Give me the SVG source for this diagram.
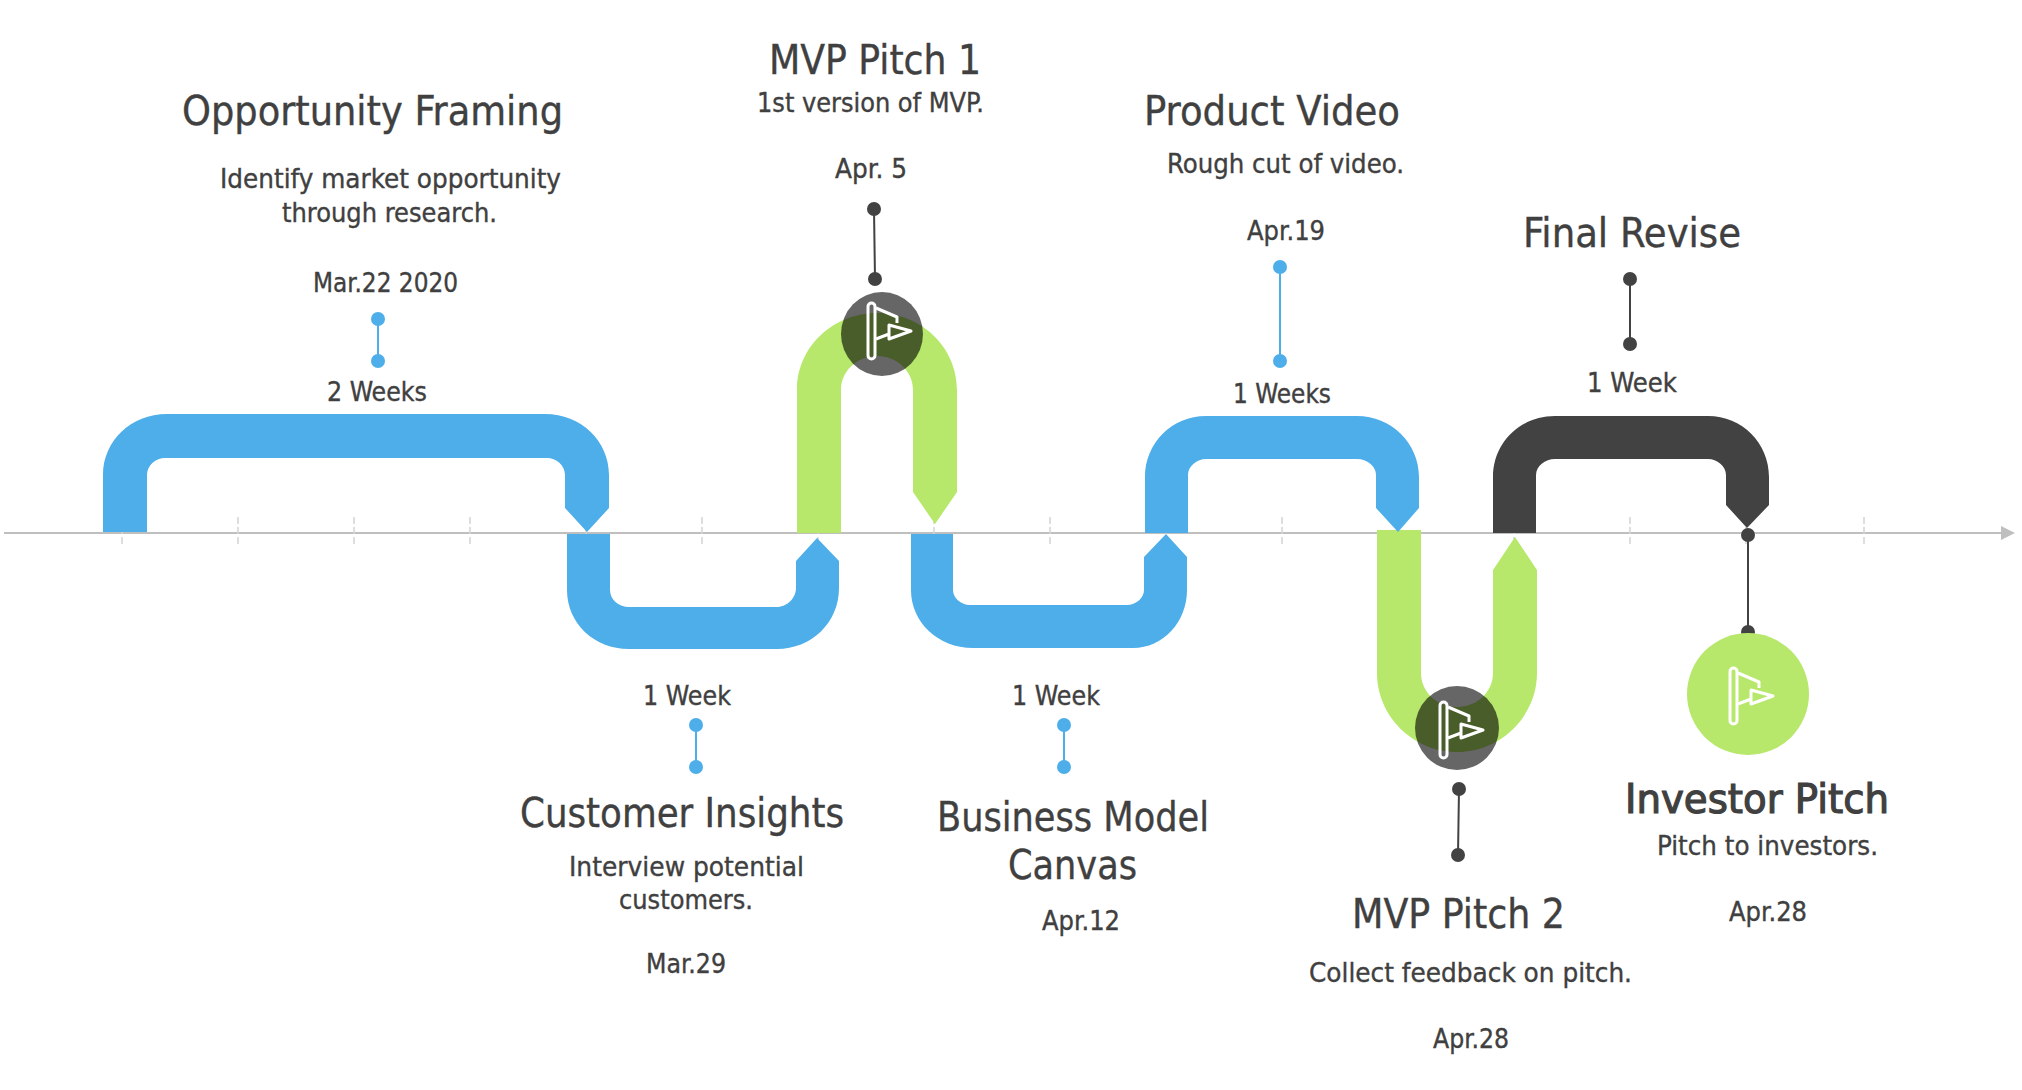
<svg xmlns="http://www.w3.org/2000/svg" width="2022" height="1090" viewBox="0 0 2022 1090">
<style>
text{font-family:"DejaVu Sans",sans-serif;font-stretch:condensed;fill:#404040;stroke:#404040;stroke-width:.35px}
.t{font-size:40px}
.b{font-size:27px}
.heavy{stroke-width:1.1px}
.axis{stroke:#bfbfbf;stroke-width:2;fill:none}
.tick{stroke:#d4d4d4;stroke-width:1.5;stroke-dasharray:7 3;fill:none}
.blue{fill:#4daeea}.green{fill:#b7e86c}.dark{fill:#424242}
.lb{stroke:#4daeea;stroke-width:2;fill:none}.ld{stroke:#424242;stroke-width:2;fill:none}
.db{fill:#4daeea}.dd{fill:#424242}
.hole{fill:#000;fill-opacity:.6}
.ic{fill:none;stroke:#fff;stroke-width:3;stroke-linejoin:round}
</style>
<defs>
<g id="flag"><rect x="0" y="0" width="7" height="56" rx="3.5" class="ic"/><path class="ic" d="M8 5L29 14V20M8 36L21 31M21 22L43 28L21 36Z"/></g>
</defs>
<g id="connectors">
<path class="axis" d="M4 533H2002"/><path d="M2001 526L2015 533L2001 540Z" fill="#bfbfbf"/>
<path class="tick" d="M122 517V547M238 517V547M354 517V547M470 517V547M586 517V547M702 517V547M818 517V547M934 517V547M1050 517V547M1166 517V547M1282 517V547M1398 517V547M1514 517V547M1630 517V547M1746 517V547M1864 517V547"/>
</g>
<g id="bar-opportunity"><path class="blue" d="M103 532V475C103 441 131 414 167 414H545C581 414 609 441 609 475V508L587 532L565 508V475C565 465 556 458 547 458H165C156 458 147 465 147 475V532Z"/></g>
<g id="bar-insights"><path class="blue" d="M567 534V590C567 623 594 649 629 649H777C811 649 839 623 839 588V561L817 538L796 561V588C796 598 787 607 777 607H629C619 607 610 600 610 590V534Z"/></g>
<g id="bar-mvp1"><path class="green" d="M797 533V390C797 347 833 313 877 313C921 313 957 347 957 390V492L935 524L913 492V390C913 371 897 356 877 356C857 356 841 371 841 390V533Z"/></g>
<g id="bar-model"><path class="blue" d="M911 534V590C911 622 938 648 973 648H1133C1163 648 1187 622 1187 590V557L1166 534L1144 557V590C1144 598 1136 605 1127 605H970C961 605 953 598 953 590V534Z"/></g>
<g id="bar-mvp2"><path class="green" d="M1377 530V673C1377 716 1413 752 1457 752C1501 752 1537 716 1537 673V570L1515 537L1493 570V673C1493 692 1477 707 1457 707C1437 707 1421 692 1421 673V530Z"/></g>
<g id="bar-video"><path class="blue" d="M1145 533V477C1145 443 1172 416 1206 416H1357C1391 416 1419 443 1419 477V508L1398 532L1376 508V475C1376 466 1367 459 1357 459H1206C1197 459 1188 466 1188 475V533Z"/></g>
<g id="bar-revise"><path class="dark" d="M1493 533V477C1493 443 1520 416 1555 416H1708C1742 416 1769 443 1769 477V505L1747 528L1726 505V475C1726 466 1717 459 1708 459H1555C1545 459 1536 466 1536 475V533Z"/></g>
<g id="lead-1"><path class="lb" d="M378 319V362"/><circle class="db" cx="378" cy="319" r="7"/><circle class="db" cx="378" cy="361" r="7"/></g>
<g id="lead-2"><path class="ld" d="M874 209L875 279"/><circle class="dd" cx="874" cy="209" r="7"/><circle class="dd" cx="875" cy="279" r="7"/></g>
<g id="lead-3"><path class="lb" d="M696 725V767"/><circle class="db" cx="696" cy="725" r="7"/><circle class="db" cx="696" cy="767" r="7"/></g>
<g id="lead-4"><path class="lb" d="M1064 725V767"/><circle class="db" cx="1064" cy="725" r="7"/><circle class="db" cx="1064" cy="767" r="7"/></g>
<g id="lead-5"><path class="lb" d="M1280 267V361"/><circle class="db" cx="1280" cy="267" r="7"/><circle class="db" cx="1280" cy="361" r="7"/></g>
<g id="lead-6"><path class="ld" d="M1630 279V344"/><circle class="dd" cx="1630" cy="279" r="7"/><circle class="dd" cx="1630" cy="344" r="7"/></g>
<g id="lead-7"><path class="ld" d="M1459 789L1458 855"/><circle class="dd" cx="1459" cy="789" r="7"/><circle class="dd" cx="1458" cy="855" r="7"/></g>
<g id="lead-8"><path class="ld" d="M1748 535V632"/><circle class="dd" cx="1748" cy="535" r="7"/><circle class="dd" cx="1748" cy="632" r="7"/></g>
<g id="node-mvp1-flag"><ellipse class="hole" cx="882" cy="334" rx="41" ry="42"/><use href="#flag" x="868" y="303"/></g>
<g id="node-mvp2-flag"><ellipse class="hole" cx="1457" cy="728" rx="42" ry="42"/><use href="#flag" x="1440" y="702"/></g>
<g id="node-investor-flag"><circle class="green" cx="1748" cy="694" r="61"/><use href="#flag" x="1730" y="668"/></g>
<g id="node-opportunity">
<text class="t" x="182" y="125" textLength="381" lengthAdjust="spacingAndGlyphs">Opportunity Framing</text>
<text class="b" x="220" y="188" textLength="341" lengthAdjust="spacingAndGlyphs">Identify market opportunity</text>
<text class="b" x="282" y="222" textLength="215" lengthAdjust="spacingAndGlyphs">through research.</text>
<text class="b" x="313" y="292" textLength="145" lengthAdjust="spacingAndGlyphs">Mar.22 2020</text>
<text class="b" x="327" y="401" textLength="100" lengthAdjust="spacingAndGlyphs">2 Weeks</text>
</g>
<g id="node-mvp1">
<text class="t" x="769" y="74" textLength="212" lengthAdjust="spacingAndGlyphs">MVP Pitch 1</text>
<text class="b" x="757" y="112" textLength="227" lengthAdjust="spacingAndGlyphs">1st version of MVP.</text>
<text class="b" x="835" y="178" textLength="72" lengthAdjust="spacingAndGlyphs">Apr. 5</text>
</g>
<g id="node-video">
<text class="t" x="1144" y="125" textLength="256" lengthAdjust="spacingAndGlyphs">Product Video</text>
<text class="b" x="1167" y="173" textLength="237" lengthAdjust="spacingAndGlyphs">Rough cut of video.</text>
<text class="b" x="1247" y="240" textLength="78" lengthAdjust="spacingAndGlyphs">Apr.19</text>
<text class="b" x="1233" y="403" textLength="98" lengthAdjust="spacingAndGlyphs">1 Weeks</text>
</g>
<g id="node-revise">
<text class="t" x="1523" y="247" textLength="218" lengthAdjust="spacingAndGlyphs">Final Revise</text>
<text class="b" x="1587" y="392" textLength="90" lengthAdjust="spacingAndGlyphs">1 Week</text>
</g>
<g id="node-insights">
<text class="b" x="643" y="705" textLength="88" lengthAdjust="spacingAndGlyphs">1 Week</text>
<text class="t" x="520" y="827" textLength="324" lengthAdjust="spacingAndGlyphs">Customer Insights</text>
<text class="b" x="569" y="876" textLength="235" lengthAdjust="spacingAndGlyphs">Interview potential</text>
<text class="b" x="619" y="909" textLength="134" lengthAdjust="spacingAndGlyphs">customers.</text>
<text class="b" x="646" y="973" textLength="80" lengthAdjust="spacingAndGlyphs">Mar.29</text>
</g>
<g id="node-model">
<text class="b" x="1012" y="705" textLength="88" lengthAdjust="spacingAndGlyphs">1 Week</text>
<text class="t" x="937" y="831" textLength="272" lengthAdjust="spacingAndGlyphs">Business Model</text>
<text class="t" x="1008" y="879" textLength="129" lengthAdjust="spacingAndGlyphs">Canvas</text>
<text class="b" x="1042" y="930" textLength="78" lengthAdjust="spacingAndGlyphs">Apr.12</text>
</g>
<g id="node-mvp2">
<text class="t" x="1352" y="928" textLength="213" lengthAdjust="spacingAndGlyphs">MVP Pitch 2</text>
<text class="b" x="1309" y="982" textLength="323" lengthAdjust="spacingAndGlyphs">Collect feedback on pitch.</text>
<text class="b" x="1433" y="1048" textLength="76" lengthAdjust="spacingAndGlyphs">Apr.28</text>
</g>
<g id="node-investor">
<text class="t heavy" x="1625" y="813" textLength="264" lengthAdjust="spacingAndGlyphs">Investor Pitch</text>
<text class="b" x="1657" y="855" textLength="221" lengthAdjust="spacingAndGlyphs">Pitch to investors.</text>
<text class="b" x="1729" y="921" textLength="78" lengthAdjust="spacingAndGlyphs">Apr.28</text>
</g>
</svg>
